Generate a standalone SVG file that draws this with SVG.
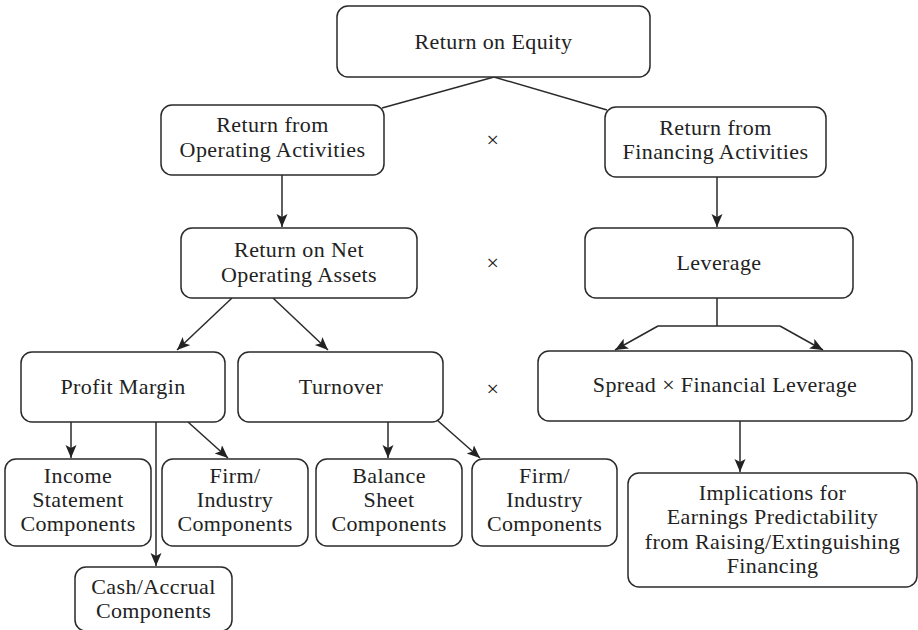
<svg xmlns="http://www.w3.org/2000/svg" width="918" height="630" viewBox="0 0 918 630">
<style>
.box{fill:#fff;stroke:#2a2a2a;stroke-width:1.5}
.t{font-family:"Liberation Serif","Times New Roman",serif;font-size:22px;fill:#222;text-anchor:middle;letter-spacing:0.4px}
.c{fill:none;stroke:#2a2a2a;stroke-width:1.5}
</style>
<defs>
<marker id="ah" markerUnits="userSpaceOnUse" markerWidth="14" markerHeight="12" refX="13" refY="5.5" orient="auto">
<path d="M0,0 L13,5.5 L0,11 L3,5.5 z" fill="#222"/>
</marker>
</defs>
<rect width="918" height="630" fill="#fff"/>
<g id="connectors">
<path class="c" d="M494,77 L382,108"/>
<path class="c" d="M494,77 L607,110"/>
<path class="c" d="M282,175 L282,227" marker-end="url(#ah)"/>
<path class="c" d="M717,177 L717,227" marker-end="url(#ah)"/>
<path class="c" d="M232,298 L177,350" marker-end="url(#ah)"/>
<path class="c" d="M273,298 L328,350" marker-end="url(#ah)"/>
<path class="c" d="M717,298 L717,326 M658,326 L780,326"/>
<path class="c" d="M658,326 L615,350" marker-end="url(#ah)"/>
<path class="c" d="M780,326 L823,350" marker-end="url(#ah)"/>
<path class="c" d="M71,422 L71,458" marker-end="url(#ah)"/>
<path class="c" d="M188,422 L228,458" marker-end="url(#ah)"/>
<path class="c" d="M156,422 L156,566" marker-end="url(#ah)"/>
<path class="c" d="M388,422 L388,458" marker-end="url(#ah)"/>
<path class="c" d="M437,420 L480,458" marker-end="url(#ah)"/>
<path class="c" d="M740,421 L740,472" marker-end="url(#ah)"/>
</g>
<g id="times">
<text class="t" x="493" y="147">×</text>
<text class="t" x="493" y="270">×</text>
<text class="t" x="493" y="396">×</text>
</g>
<g id="roe">
<rect class="box" x="337" y="6" width="313" height="71" rx="11"/>
<text class="t" x="493.5" y="49">Return on Equity</text>
</g>
<g id="roa">
<rect class="box" x="161" y="105" width="223" height="70" rx="11"/>
<text class="t" x="272.5" y="132">Return from</text>
<text class="t" x="272.5" y="157">Operating Activities</text>
</g>
<g id="rfa">
<rect class="box" x="605" y="107" width="221" height="70" rx="11"/>
<text class="t" x="715.5" y="135">Return from</text>
<text class="t" x="715.5" y="159">Financing Activities</text>
</g>
<g id="rnoa">
<rect class="box" x="181" y="228" width="236" height="70" rx="11"/>
<text class="t" x="299" y="257">Return on Net</text>
<text class="t" x="299" y="282">Operating Assets</text>
</g>
<g id="leverage">
<rect class="box" x="585" y="228" width="268" height="70" rx="11"/>
<text class="t" x="719" y="270">Leverage</text>
</g>
<g id="profit-margin">
<rect class="box" x="21" y="352" width="204" height="70" rx="11"/>
<text class="t" x="123" y="394">Profit Margin</text>
</g>
<g id="turnover">
<rect class="box" x="238" y="352" width="205" height="70" rx="11"/>
<text class="t" x="341" y="394">Turnover</text>
</g>
<g id="spread">
<rect class="box" x="538" y="351" width="374" height="70" rx="11"/>
<text class="t" x="725" y="392">Spread × Financial Leverage</text>
</g>
<g id="income-statement">
<rect class="box" x="5" y="459" width="146" height="87" rx="11"/>
<text class="t" x="78" y="483">Income</text>
<text class="t" x="78" y="507">Statement</text>
<text class="t" x="78" y="531">Components</text>
</g>
<g id="firm-industry-1">
<rect class="box" x="162" y="459" width="146" height="87" rx="11"/>
<text class="t" x="235" y="483">Firm/</text>
<text class="t" x="235" y="507">Industry</text>
<text class="t" x="235" y="531">Components</text>
</g>
<g id="balance-sheet">
<rect class="box" x="316" y="459" width="146" height="87" rx="11"/>
<text class="t" x="389" y="483">Balance</text>
<text class="t" x="389" y="507">Sheet</text>
<text class="t" x="389" y="531">Components</text>
</g>
<g id="firm-industry-2">
<rect class="box" x="472" y="459" width="145" height="87" rx="11"/>
<text class="t" x="544.5" y="483">Firm/</text>
<text class="t" x="544.5" y="507">Industry</text>
<text class="t" x="544.5" y="531">Components</text>
</g>
<g id="cash-accrual">
<rect class="box" x="75" y="567" width="157" height="64" rx="11"/>
<text class="t" x="153.5" y="594">Cash/Accrual</text>
<text class="t" x="153.5" y="618">Components</text>
</g>
<g id="implications">
<rect class="box" x="628" y="473" width="289" height="114" rx="11"/>
<text class="t" x="772.5" y="500">Implications for</text>
<text class="t" x="772.5" y="524">Earnings Predictability</text>
<text class="t" x="772.5" y="549">from Raising/Extinguishing</text>
<text class="t" x="772.5" y="573">Financing</text>
</g>
</svg>
